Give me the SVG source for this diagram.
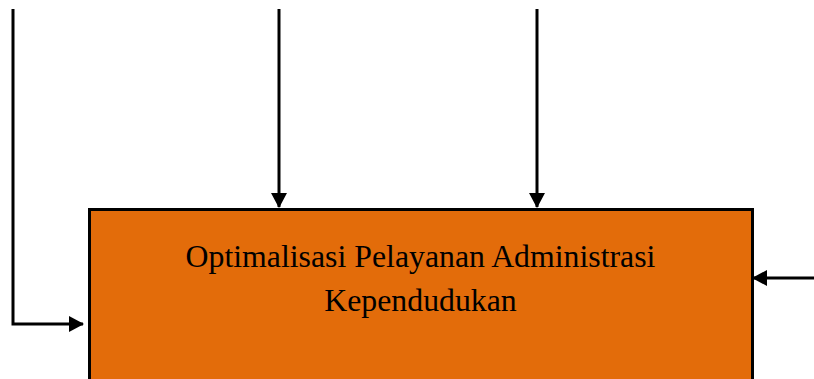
<svg xmlns="http://www.w3.org/2000/svg" width="814" height="379" viewBox="0 0 814 379">
<style>
.ln{stroke:#000;stroke-width:3;fill:none}
.t{font-family:"Liberation Serif","Times New Roman",serif;font-size:31.8px;fill:#000;text-anchor:middle}
</style>
<defs>
<marker id="ah" markerWidth="16" markerHeight="16" refX="14" refY="8" orient="auto" markerUnits="userSpaceOnUse">
<path d="M0,0 L15,8 L0,16 Z" fill="#000"/>
</marker>
</defs>
<rect width="814" height="379" fill="#fff"/>
<g id="node-box">
<rect x="89.5" y="209.5" width="663" height="180" fill="#E36C0A" stroke="#000" stroke-width="3"/>
<text class="t" x="420.5" y="267">Optimalisasi Pelayanan Administrasi</text>
<text class="t" x="420.5" y="311">Kependudukan</text>
</g>
<g id="connectors">
<polyline class="ln" points="13,9 13,324 83,324" marker-end="url(#ah)"/>
<line class="ln" x1="279" y1="9" x2="279" y2="207" marker-end="url(#ah)"/>
<line class="ln" x1="537" y1="9" x2="537" y2="207" marker-end="url(#ah)"/>
<line class="ln" x1="814" y1="278" x2="753" y2="278" marker-end="url(#ah)"/>
</g>
</svg>
